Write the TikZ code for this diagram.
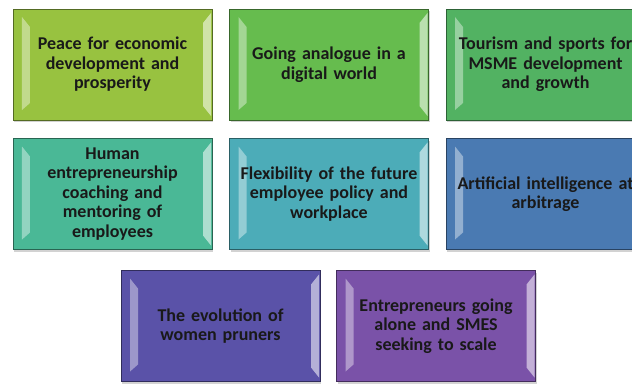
\documentclass[tikz,border=0pt]{standalone}
\usepackage{fontspec}
\setmainfont{Carlito}
\usetikzlibrary{shadows}

% fill colours of the tiles
\definecolor{tileA}{RGB}{152,194,64}
\definecolor{tileB}{RGB}{102,188,78}
\definecolor{tileC}{RGB}{82,178,98}
\definecolor{tileD}{RGB}{74,184,150}
\definecolor{tileE}{RGB}{76,172,184}
\definecolor{tileF}{RGB}{74,122,178}
\definecolor{tileG}{RGB}{90,82,168}
\definecolor{tileH}{RGB}{122,82,168}

\tikzset{
  tile/.style={draw=#1!55!black, line width=.6bp, fill=#1,
    minimum width=199bp, minimum height=111bp, text width=194bp,
    align=center, inner sep=0pt, text=black!90,
    font=\fontsize{18bp}{19.5bp}\selectfont\bfseries,
    drop shadow={shadow xshift=1bp, shadow yshift=-2bp, opacity=.35},
    path picture={
      % bevel on the left side
      \fill[white,opacity=.4]
        ([xshift=9bp,yshift=-8bp]path picture bounding box.north west) --
        ([xshift=17bp,yshift=-18bp]path picture bounding box.north west) --
        ([xshift=17bp,yshift=17bp]path picture bounding box.south west) --
        ([xshift=9bp,yshift=10bp]path picture bounding box.south west) -- cycle;
      % bevel on the right side
      \fill[white,opacity=.55]
        ([xshift=-1bp,yshift=-4bp]path picture bounding box.north east) --
        ([xshift=-9bp,yshift=-14bp]path picture bounding box.north east) --
        ([xshift=-9bp,yshift=14bp]path picture bounding box.south east) --
        ([xshift=-1bp,yshift=4bp]path picture bounding box.south east) -- cycle;
    }}
}

\begin{document}
\begin{tikzpicture}[x=1bp,y=1bp]
  \useasboundingbox (0,0) rectangle (632,383);
  \clip (0,0) rectangle (632,383);
  \fill[white] (0,0) rectangle (632,383);
  % first row
  \node[tile=tileA] (peace) at (112.5,318.5) {Peace for economic\\development and\\prosperity};
  \node[tile=tileB] (analogue) at (329,318.5) {Going analogue in a\\digital world};
  \node[tile=tileC] (tourism) at (545.5,318.5) {Tourism and sports for\\MSME development\\and growth};
  % second row
  \node[tile=tileD] (coaching) at (112.5,189) {Human\\entrepreneurship\\coaching and\\mentoring of\\employees};
  \node[tile=tileE] (flexible) at (329,189) {Flexibility of the future\\employee policy and\\workplace};
  \node[tile=tileF] (arbitrage) at (545.5,189) {Artificial intelligence at\\arbitrage};
  % third row
  \node[tile=tileG] (pruners) at (220.5,57) {The evolution of\\women pruners};
  \node[tile=tileH] (scale) at (436,57) {Entrepreneurs going\\alone and SMES\\seeking to scale};
\end{tikzpicture}
\end{document}
